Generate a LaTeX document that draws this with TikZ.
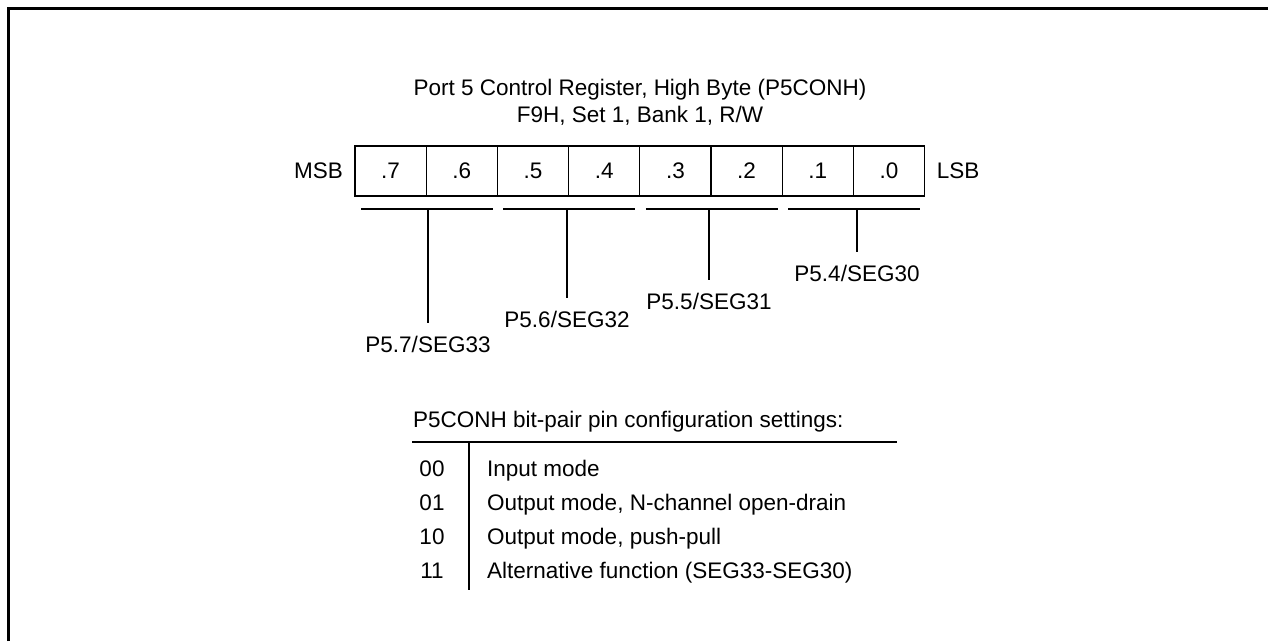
\documentclass[tikz,border=0pt]{standalone}
\usepackage{fontspec}
\setmainfont{Liberation Sans}
\usetikzlibrary{positioning}
\tikzset{
  regcell/.style = {rectangle, draw, line width=1.3pt, minimum width=71.2pt,
                    minimum height=50pt, inner sep=0pt, outer sep=0pt,
                    font=\fontsize{22.5}{26}\selectfont},
  txt/.style     = {font=\fontsize{22.5}{26}\selectfont, inner sep=0pt},
  pinline/.style = {line width=1.3pt},
  frameline/.style = {line width=3pt},
}
\begin{document}
\begin{tikzpicture}[x=1pt, y=-1pt]
  \useasboundingbox (0,0) rectangle (1268,641);
  \draw[frameline] (8.5,641) -- (8.5,8.5) -- (1268,8.5);
  % title
  \node[txt, anchor=base] (title) at (640,95) {Port 5 Control Register, High Byte (P5CONH)};
  \node[txt, anchor=base] (addr) at (640,122) {F9H, Set 1, Bank 1, R/W};
  % register bits
  \foreach \i in {7,...,0}{
    \node[regcell] (c\i) at ({355+71.2*(7-\i)+35.6},171) {.\i};
  }
  \node[txt, left=12pt of c7] (msb) {MSB};
  \node[txt, right=12pt of c0] (lsb) {LSB};
  % bit pairs
  \foreach \p/\sx/\sy/\pin in {0/428/323/{P5.7/SEG33}, 1/567/298/{P5.6/SEG32},
                               2/709/280/{P5.5/SEG31}, 3/857/252/{P5.4/SEG30}}{
    \draw[pinline] ({355+142.4*\p+6},209) -- ({355+142.4*\p+138},209);
    \coordinate (s\p) at (\sx,209);
    \coordinate (e\p) at (\sx,\sy);
    \node[txt, below=13pt of e\p] (pin\p) {\pin};
    \draw[pinline] (s\p) -- (e\p);
  }
  % settings table
  \node[txt, anchor=base west] (cap) at (413,427) {P5CONH bit-pair pin configuration settings:};
  \draw[pinline] (412,442) -- (897,442);
  \draw[pinline] (469,442) -- (469,590);
  \foreach \k/\code/\desc in {0/00/Input mode, 1/01/{Output mode, N-channel open-drain},
                              2/10/{Output mode, push-pull}, 3/11/Alternative function (SEG33-SEG30)}{
    \node[txt, anchor=base] (code\k) at (432,{476+34.3*\k}) {\code};
    \node[txt, anchor=base west] (desc\k) at (487,{476+34.3*\k}) {\desc};
  }
\end{tikzpicture}
\end{document}
